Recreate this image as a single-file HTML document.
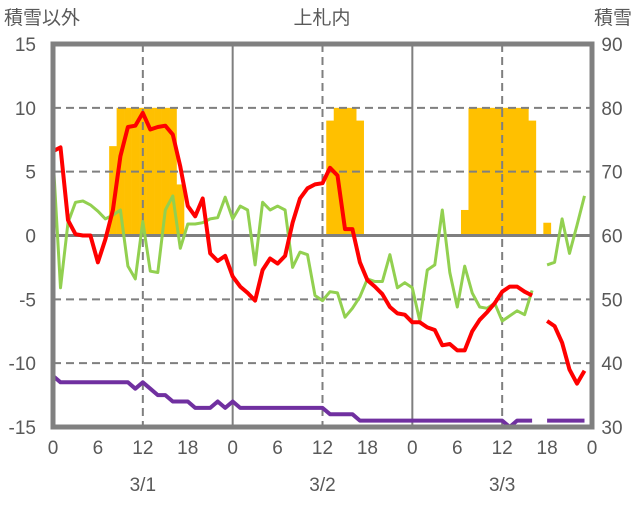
<!DOCTYPE html>
<html><head><meta charset="utf-8"><style>
body{margin:0;background:#fff}
svg text{font-family:"Liberation Sans","Noto Sans CJK JP",sans-serif;fill:#595959;font-size:19px}
</style></head><body>
<svg id="c" width="636" height="501"></svg>
<script>
const temp=[6.6,6.9,1.2,0.1,0,0,-2.1,-0.3,2,6.2,8.5,8.6,9.6,8.3,8.5,8.6,7.9,5.4,2.3,1.5,2.9,-1.4,-2,-1.6,
-3.2,-4,-4.5,-5.1,-2.7,-1.8,-2.2,-1.6,1,2.9,3.7,4,4.1,5.3,4.7,0.5,0.5,-2.1,-3.5,-4,-4.6,-5.6,-6.1,-6.2,
-6.8,-6.8,-7.2,-7.4,-8.6,-8.5,-9,-9,-7.5,-6.6,-6,-5.3,-4.4,-4,-4,-4.4,-4.7,null,-6.7,-7.1,-8.4,-10.5,-11.6,-10.6];
const other=[6.2,-4.1,1,2.6,2.7,2.4,1.9,1.3,1.6,2,-2.4,-3.4,1.1,-2.8,-2.9,2,3.1,-1,0.9,0.9,1,1.3,1.4,3,
1.3,2.3,2,-2.3,2.6,2,2.3,2,-2.5,-1.3,-1.5,-4.7,-5.1,-4.4,-4.5,-6.4,-5.7,-4.8,-3.4,-3.6,-3.6,-1.5,-4.1,-3.7,
-4.1,-6.7,-2.7,-2.3,2,-2.9,-5.6,-2.4,-4.5,-5.6,-5.7,-5.3,-6.7,-6.3,-5.9,-6.2,-4.3,null,-2.3,-2.1,1.3,-1.4,0.8,3.1];
const depth=[38,37,37,37,37,37,37,37,37,37,37,36,37,36,35,35,34,34,34,33,33,33,34,33,
34,33,33,33,33,33,33,33,33,33,33,33,33,32,32,32,32,31,31,31,31,31,31,31,
31,31,31,31,31,31,31,31,31,31,31,31,31,30,31,31,31,null,31,31,31,31,31,31];
const barHours=[8,9,10,11,12,13,14,15,16,17,37,38,39,40,41,55,56,57,58,59,60,61,62,63,64,66];
const barVals=[74,80,80,80,80,80,80,80,80,68,78,80,80,80,78,64,80,80,80,80,80,80,80,80,78,62];
const yTicks=[15,10,5,0,-5,-10,-15];
const y2Ticks=[90,80,70,60,50,40,30];
const xTicks=[0,6,12,18,0,6,12,18,0,6,12,18,0];
const dates=["3/1","3/2","3/3"];

const X0=53,X1=592,Y0=44,Y1=427;
const xs=h=>X0+h*(X1-X0)/72;
const yL=v=>Y0+(15-v)*(Y1-Y0)/30;
const yR=v=>Y0+(90-v)*(Y1-Y0)/60;
const svg=document.getElementById('c');const NS="http://www.w3.org/2000/svg";
function el(t,a,p){const e=document.createElementNS(NS,t);for(const k in a)e.setAttribute(k,a[k]);(p||svg).appendChild(e);return e;}

// bars
barHours.forEach((h,i)=>{const w=(X1-X0)/72;
const b=el('rect',{x:xs(h)-w/2,y:yR(barVals[i]),width:w+0.3,height:yR(60)-yR(barVals[i]),fill:'#FFC000'});

});
// grid
[10,5,-5,-10].forEach(v=>{const g=el('line',{x1:X0,x2:X1,y1:yL(v),y2:yL(v),stroke:'#7f7f7f','stroke-width':2,'stroke-dasharray':'8,5'});

});
[12,36,60].forEach(h=>{const g=el('line',{x1:xs(h),x2:xs(h),y1:Y0,y2:Y1,stroke:'#7f7f7f','stroke-width':2,'stroke-dasharray':'8,5'});

});
[24,48].forEach(h=>{const g=el('line',{x1:xs(h),x2:xs(h),y1:Y0,y2:Y1,stroke:'#7f7f7f','stroke-width':2});

});
const z=el('line',{x1:X0,x2:X1,y1:yL(0),y2:yL(0),stroke:'#7f7f7f','stroke-width':3});



function line(arr,f,color,w,name){let d='',pen=false;
arr.forEach((v,h)=>{if(v===null){pen=false;return;}d+=(pen?'L':'M')+xs(h).toFixed(1)+','+f(v).toFixed(1);pen=true;});
const p=el('path',{d:d,fill:'none',stroke:color,'stroke-width':w,'stroke-linejoin':'round'});

}
line(other,yL,'#92D050',3,'other-temp-line');
line(temp,yL,'#FF0000',4,'temperature-line');
line(depth,yR,'#7030A0',4,'snow-depth-line');

const fr=el('rect',{x:X0,y:Y0,width:X1-X0,height:Y1-Y0,fill:'none',stroke:'#808080','stroke-width':5});



yTicks.forEach(v=>{const t=el('text',{x:36,y:yL(v)+7,'text-anchor':'end'});t.textContent=v;

});
y2Ticks.forEach(v=>{const t=el('text',{x:612,y:yR(v)+7,'text-anchor':'middle'});t.textContent=v;

});
xTicks.forEach((v,i)=>{const t=el('text',{x:xs(i*6),y:454,'text-anchor':'middle'});t.textContent=v;

});
dates.forEach((v,i)=>{const t=el('text',{x:xs(12+i*24),y:491,'text-anchor':'middle'});t.textContent=v;

});
[['積雪以外',4,'start','left-axis-title'],['上札内',322,'middle','chart-title'],['積雪',632,'end','right-axis-title']].forEach(a=>{
const t=el('text',{x:a[1],y:24,'text-anchor':a[2]});t.textContent=a[0];

});
</script></body></html>
